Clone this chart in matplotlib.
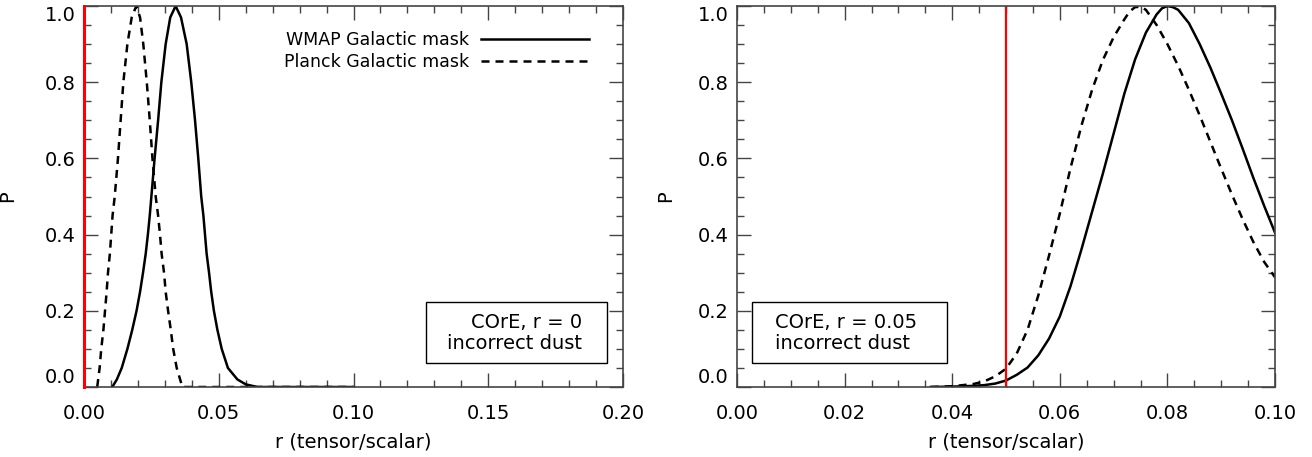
import matplotlib
matplotlib.use('Agg')
import matplotlib.pyplot as plt
from matplotlib.patches import Rectangle
from matplotlib.ticker import MultipleLocator

plt.rcParams['font.family'] = ['DejaVu Sans']

# left panel: COrE, r = 0
left_wmap_r = [0.0105, 0.0122, 0.0140, 0.0161, 0.0179, 0.0195, 0.0208, 0.0219, 0.0229, 0.0237,
               0.0244, 0.0250, 0.0262, 0.0275, 0.0287, 0.0303, 0.0320, 0.0340, 0.0360, 0.0381,
               0.0398, 0.0412, 0.0424, 0.0435, 0.0443, 0.0449, 0.0455, 0.0464, 0.0472, 0.0482,
               0.0495, 0.0511, 0.0534, 0.0569, 0.0600, 0.0643, 0.1000]
left_wmap_p = [0.0, 0.02, 0.05, 0.10, 0.15, 0.20, 0.25, 0.30, 0.35, 0.40,
               0.45, 0.50, 0.60, 0.70, 0.80, 0.90, 0.97, 1.0, 0.97, 0.90,
               0.80, 0.70, 0.60, 0.50, 0.45, 0.40, 0.35, 0.30, 0.25, 0.20,
               0.15, 0.10, 0.05, 0.02, 0.007, 0.0, 0.0]

left_planck_r = [0.0049, 0.0058, 0.0064, 0.0072, 0.0078, 0.0084, 0.0089, 0.0096, 0.0101, 0.0106,
                 0.0114, 0.0126, 0.0136, 0.0146, 0.0161, 0.0177, 0.0194, 0.0208, 0.0220, 0.0233,
                 0.0244, 0.0254, 0.0266, 0.0275, 0.0282, 0.0288, 0.0297, 0.0303, 0.0312, 0.0322,
                 0.0331, 0.0344, 0.0365, 0.1000]
left_planck_p = [0.0, 0.05, 0.10, 0.15, 0.20, 0.25, 0.30, 0.35, 0.40, 0.45,
                 0.50, 0.60, 0.70, 0.80, 0.90, 0.97, 1.0, 0.97, 0.90, 0.80,
                 0.70, 0.60, 0.50, 0.45, 0.40, 0.35, 0.30, 0.25, 0.20, 0.15,
                 0.10, 0.05, 0.0, 0.0]

# right panel: COrE, r = 0.05
right_wmap_r = [0.036, 0.040, 0.044, 0.046, 0.048, 0.050, 0.052, 0.054, 0.056, 0.058,
                0.060, 0.062, 0.064, 0.066, 0.068, 0.070, 0.072, 0.074, 0.076, 0.078,
                0.079, 0.080, 0.081, 0.082, 0.084, 0.086, 0.088, 0.090, 0.092, 0.094,
                0.096, 0.098, 0.100]
right_wmap_p = [0.0, 0.001, 0.003, 0.005, 0.009, 0.017, 0.032, 0.051, 0.083, 0.127,
                0.185, 0.265, 0.36, 0.46, 0.56, 0.665, 0.77, 0.86, 0.93, 0.978,
                0.994, 1.0, 0.997, 0.99, 0.955, 0.90, 0.838, 0.77, 0.70, 0.625,
                0.548, 0.475, 0.405]

right_planck_r = [0.036, 0.040, 0.044, 0.046, 0.048, 0.050, 0.052, 0.054, 0.056, 0.058,
                  0.060, 0.062, 0.064, 0.066, 0.068, 0.070, 0.072, 0.073, 0.074, 0.075,
                  0.076, 0.078, 0.080, 0.082, 0.084, 0.086, 0.088, 0.090, 0.092, 0.094,
                  0.096, 0.098, 0.100]
right_planck_p = [0.0, 0.002, 0.008, 0.015, 0.028, 0.048, 0.088, 0.15, 0.24, 0.345,
                  0.455, 0.575, 0.685, 0.78, 0.858, 0.918, 0.965, 0.986, 0.997, 0.998,
                  0.99, 0.95, 0.90, 0.843, 0.78, 0.713, 0.643, 0.573, 0.505, 0.44,
                  0.38, 0.328, 0.288]

fig = plt.figure(figsize=(13.12, 4.57), dpi=100)
ax1 = fig.add_axes([84/1312, 1 - 387/457, 539/1312, 381/457])
ax2 = fig.add_axes([737/1312, 1 - 387/457, 538/1312, 381/457])

dash = (3.2, 2.4)
ax1.plot(left_wmap_r, left_wmap_p, 'k-', lw=1.8, label='WMAP Galactic mask')
ax1.plot(left_planck_r, left_planck_p, 'k--', lw=1.8, dashes=dash, label='Planck Galactic mask')
ax1.axvline(0.0, color='red', lw=2.2, clip_on=False, zorder=5)
ax2.plot(right_wmap_r, right_wmap_p, 'k-', lw=1.8)
ax2.plot(right_planck_r, right_planck_p, 'k--', lw=1.8, dashes=dash)
ax2.axvline(0.05, color='red', lw=1.6)

ax1.set_xlim(0, 0.2)
ax2.set_xlim(0, 0.1)
ax1.xaxis.set_major_locator(MultipleLocator(0.05))
ax1.xaxis.set_minor_locator(MultipleLocator(0.01))
ax2.xaxis.set_major_locator(MultipleLocator(0.02))
ax2.xaxis.set_minor_locator(MultipleLocator(0.005))

for ax in (ax1, ax2):
    ax.set_ylim(0, 1.0)
    ax.set_yticks([0.0, 0.2, 0.4, 0.6, 0.8, 1.0])
    ax.set_yticklabels(['0.0', '0.2', '0.4', '0.6', '0.8', '1.0'])
    ax.yaxis.set_minor_locator(MultipleLocator(0.05))
    ax.xaxis.set_major_formatter(plt.FormatStrFormatter('%.2f'))
    ax.tick_params(which='both', direction='in', top=True, right=True, color='#444444')
    ax.tick_params(which='major', length=10, width=1)
    ax.tick_params(which='minor', length=5, width=1)
    ax.tick_params(axis='x', labelsize=14, pad=12)
    ax.tick_params(axis='y', labelsize=14, pad=6)
    labels = ax.get_yticklabels()
    labels[0].set_va('bottom')
    labels[-1].set_va('top')
    for s in ax.spines.values():
        s.set_color('#444444')
        s.set_linewidth(1.2)
    ax.set_xlabel('r (tensor/scalar)', fontsize=14, labelpad=7)

ax1.set_ylabel('P', fontsize=14, labelpad=20)
ax2.set_ylabel('P', fontsize=14, labelpad=16)

ax1.legend(loc='upper right', bbox_to_anchor=(0.937, 0.935), frameon=False, markerfirst=False,
           fontsize=12.5, handlelength=6.2, handletextpad=0.7, labelspacing=0.25,
           borderpad=0, borderaxespad=0)

# label boxes
ax1.add_patch(Rectangle((0.6345, 0.063), 0.3355, 0.160, transform=ax1.transAxes,
                        fill=False, ec='black', lw=1))
ax1.text(0.924, 0.142, 'COrE, r = 0\nincorrect dust', transform=ax1.transAxes,
         ha='right', va='center', multialignment='right', fontsize=14, linespacing=1.1)
ax2.add_patch(Rectangle((0.028, 0.063), 0.362, 0.160, transform=ax2.transAxes,
                        fill=False, ec='black', lw=1))
ax2.text(0.0706, 0.142, 'COrE, r = 0.05\nincorrect dust', transform=ax2.transAxes,
         ha='left', va='center', multialignment='left', fontsize=14, linespacing=1.1)

fig.savefig('out.png', dpi=100)
